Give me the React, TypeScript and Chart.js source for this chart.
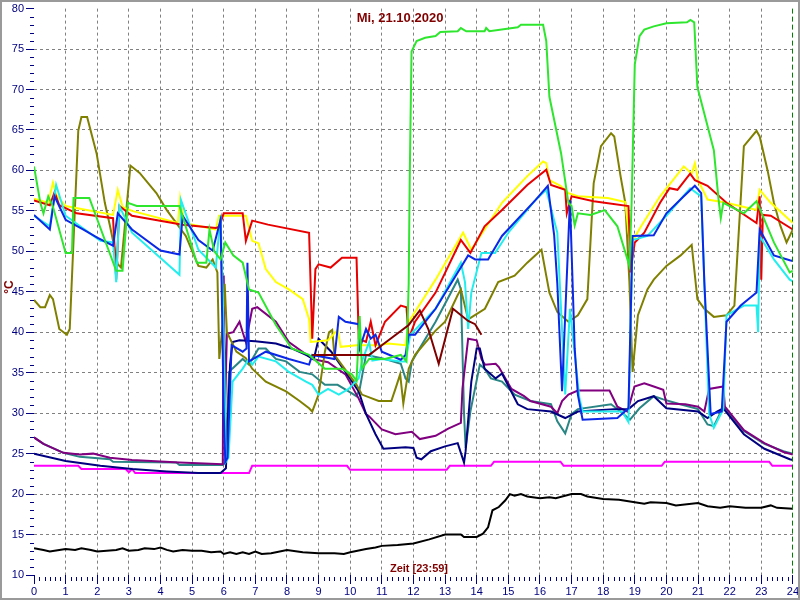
import { useEffect, useRef } from "react";
import { Chart, registerables } from "chart.js";

Chart.register(...registerables);

type P = [number, number];

// hour of day, °C
const green: P[] = [[0,60.5],[0.2,56],[0.3,54.7],[0.45,56.8],[0.6,55.5],[1.0,49.8],[1.2,49.8],[1.25,56.6],[1.75,56.6],[2.6,47.6],[2.8,47.6],[2.97,56],[3.25,55.6],[4.6,55.6],[5.15,48.6],[5.45,48.6],[5.55,52.7],[5.7,50],[5.9,49],[6.05,51.1],[6.3,49.5],[6.6,48.6],[6.8,45.3],[7.1,44.9],[7.65,40.9],[8.15,38],[8.7,37.2],[9.2,35.5],[9.74,35.5],[10.05,34.8],[10.2,34],[10.3,42],[10.37,35.5],[10.6,36.7],[11.1,36.7],[11.6,37.2],[11.78,36.4],[11.85,46],[11.88,58],[11.9,64],[11.94,74.7],[12.1,76],[12.37,76.4],[12.7,76.6],[12.85,77.1],[13.4,77.2],[13.5,77.6],[13.67,77.2],[14.25,77.2],[14.3,77.6],[14.4,77.2],[15.3,77.7],[15.4,78],[16.1,78],[16.2,76],[16.3,69.1],[16.67,62.1],[16.9,56],[17.0,55.6],[17.1,53.2],[17.2,54.7],[17.6,54.5],[18.05,55.1],[18.45,53.1],[18.83,48.2],[18.9,56],[19.0,73.1],[19.15,76.6],[19.3,77.4],[19.6,77.8],[20.0,78.2],[20.65,78.3],[20.76,78.6],[20.88,78.3],[20.98,70.3],[21.5,62.5],[21.65,56.4],[21.72,54.1],[21.8,56],[22.45,54.7],[22.85,56.2],[23.4,51.1],[23.9,47.4],[24,47.6]];

const yellow: P[] = [[0,56.5],[0.45,56],[0.6,58.5],[0.7,57],[1.0,55.6],[2.5,54.5],[2.65,57.6],[2.8,55.5],[3.1,55],[4.55,53.5],[4.62,56.6],[4.75,53.5],[5.75,52.7],[5.85,54.4],[6.17,54.4],[6.7,54.4],[6.9,51.3],[7.1,51],[7.33,47.8],[7.65,46.2],[8.06,45.3],[8.5,44.1],[8.7,41.6],[8.75,38.8],[9.3,39],[9.6,40.3],[9.7,38.2],[10.2,38.4],[10.9,38.4],[11.2,38.6],[11.75,38.4],[11.85,41.3],[12.7,46.5],[13.57,52.3],[13.83,50.2],[14.8,56],[15.6,59.3],[16.1,61.1],[16.2,60.9],[16.3,58.8],[16.65,58.1],[16.9,57.2],[17.2,56.8],[18.15,56.6],[18.7,56.1],[18.8,52.5],[18.86,50.8],[19.2,53.1],[19.8,56.8],[20.55,60.5],[20.8,59.6],[20.9,60.9],[21.0,58.8],[21.3,56.4],[21.9,56],[22.85,55.1],[22.95,57.6],[23.3,56],[24,53.5]];

const red: P[] = [[0,56.3],[0.5,55.7],[0.65,57.3],[0.8,55.7],[1.35,54.7],[2.5,54.1],[2.6,46.5],[2.7,55.6],[3.1,54.4],[4.7,53.3],[5.75,52.9],[5.85,53],[6.0,54.7],[6.6,54.7],[6.7,51.3],[6.9,53.8],[7.4,53.3],[8.7,52.3],[8.8,39.2],[8.9,47.8],[9.0,48.4],[9.38,48],[9.74,49.2],[10.2,49.2],[10.27,39.2],[10.5,38.8],[10.65,41.3],[10.8,38.4],[11.1,41.3],[11.6,43.3],[11.78,43.1],[11.85,39.2],[12.05,41.3],[12.7,44.9],[13.5,51.4],[13.8,49.8],[14.25,53.1],[14.8,55.1],[15.6,58.2],[16.2,60.1],[16.35,58.2],[16.8,57.6],[16.85,54.7],[17.0,56.8],[17.7,56.2],[18.8,55.6],[18.83,52.3],[18.86,47.4],[19.0,51.1],[19.3,52.3],[19.8,56],[20.1,57.8],[20.35,57.6],[20.75,59.6],[20.9,58.8],[21.3,58.1],[21.9,56],[22.85,53.5],[22.95,56.8],[23.0,46.5],[23.05,54.5],[23.3,54.4],[24,52.7]];

const cyan: P[] = [[0,54.4],[0.5,53.1],[0.7,58.2],[1.0,54.4],[2.1,51.3],[2.5,51.1],[2.6,46.2],[2.7,55.6],[3.1,52.3],[4.6,47.1],[4.65,56.3],[5.2,50.2],[5.75,48],[5.9,54.4],[6.0,40],[6.07,24],[6.15,24.5],[6.28,33.9],[6.6,35.5],[6.8,36.7],[6.9,36],[7.1,37],[7.65,36.4],[8.06,35.1],[8.6,33.9],[8.8,33.5],[9.0,32.3],[9.3,33],[9.64,32.3],[9.95,33],[10.27,34.3],[10.37,36.4],[10.6,38.8],[10.7,36.5],[11.0,36.7],[11.6,36.4],[11.75,36.4],[11.9,39.7],[12.7,42.9],[13.5,48.6],[13.63,46.2],[13.73,40.4],[13.83,44.9],[14.15,49.8],[14.58,49.8],[15.0,52.3],[15.85,56.3],[16.2,57.6],[16.55,52.3],[16.8,32.3],[16.95,42.9],[17.25,31.8],[17.35,30.2],[18.6,30.2],[18.8,28.9],[18.93,51.4],[19.4,51.9],[20.0,54.4],[20.75,57.8],[21.1,56.8],[21.35,29.9],[21.5,28.2],[21.8,30.5],[21.9,42.1],[22.45,43.3],[22.85,43.3],[22.9,40],[22.95,51.9],[23.4,49],[23.9,46.5],[24,46.3]];

const blue: P[] = [[0,54.5],[0.5,52.7],[0.65,56.8],[1.0,53.9],[1.55,52.7],[2.0,51.7],[2.5,50.7],[2.65,54.7],[3.1,52.7],[4.0,50.1],[4.6,49.6],[4.7,54.4],[5.2,51.4],[5.65,50.1],[5.9,53.9],[6.0,30],[6.05,24],[6.12,24.5],[6.25,38.4],[6.6,37.6],[6.72,38],[6.75,48.6],[6.8,36.4],[7.33,37.6],[8.06,36.7],[8.7,36],[8.8,37.2],[9.5,36.7],[9.64,41.9],[9.85,41.3],[10.27,41],[10.3,38],[10.5,40.4],[10.65,39.2],[10.8,39.7],[11.0,37.6],[11.6,36.6],[11.75,37.2],[11.85,39.7],[12.05,39.7],[12.7,42.9],[13.73,49.5],[13.95,49],[14.36,49],[14.8,51.9],[15.85,56.3],[16.25,58.1],[16.45,52],[16.55,46],[16.7,32.7],[16.95,56.3],[17.1,38],[17.2,32.3],[17.35,29.2],[18.45,29.4],[18.8,30.6],[18.93,51.9],[19.6,52],[20.0,54.7],[20.55,56.8],[20.9,58.1],[21.1,57.2],[21.2,46.2],[21.35,33.9],[21.4,29.9],[21.75,30.2],[21.9,41.3],[22.35,43.3],[22.85,44.9],[22.95,52.7],[23.4,49.5],[23.9,48.9],[24,48.8]];

const olive: P[] = [[0,44],[0.2,43.1],[0.35,43.1],[0.5,44.6],[0.6,44.1],[0.8,40.4],[1.04,39.7],[1.13,40.4],[1.4,64.9],[1.5,66.6],[1.68,66.6],[1.98,62.1],[2.24,56],[2.4,53.2],[2.65,48.4],[2.75,48],[3.05,60.6],[3.34,59.7],[3.87,57.2],[4.2,55.1],[4.8,51.9],[5.2,48.2],[5.45,48],[5.65,49],[5.8,47.4],[5.86,36.7],[5.97,41],[6.03,46],[6.1,40],[6.4,37.6],[6.7,36.8],[6.9,35.5],[7.33,33.9],[7.97,32.7],[8.4,31.5],[8.7,30.6],[8.8,30.2],[9.0,32.3],[9.2,37.6],[9.33,40],[9.43,40.3],[9.5,37.2],[10.2,33.5],[10.37,32.3],[10.9,31.5],[11.3,31.5],[11.43,33],[11.58,34.8],[11.68,31.2],[11.85,35.5],[12.05,37.2],[12.7,40.2],[13.0,41.3],[13.4,44.6],[13.5,45.3],[13.73,41.6],[14.26,42.9],[14.68,46.2],[15.2,47],[15.6,48.6],[16.05,50.2],[16.2,47],[16.3,44.9],[16.55,42.5],[16.9,41.3],[17.2,42.1],[17.5,44.1],[17.7,58.4],[17.93,63],[18.25,64.6],[18.35,64.2],[18.55,59.3],[18.7,56],[18.83,46.2],[18.93,35.1],[19.1,42.1],[19.4,45.3],[19.6,46.5],[20.0,48.2],[20.45,49.5],[20.8,50.8],[20.98,44.1],[21.2,42.9],[21.5,41.9],[21.9,42.1],[22.15,43.3],[22.45,63],[22.85,64.9],[22.95,64.2],[23.2,60],[23.4,56],[23.6,53.2],[23.8,51.1],[24,52.7]];

const purple: P[] = [[0,27],[0.3,26.2],[0.93,25.1],[1.45,24.9],[1.87,25],[2.4,24.5],[3.1,24.2],[4.6,23.9],[5.97,23.7],[6.0,47],[6.04,30],[6.1,39.8],[6.3,40],[6.5,41.3],[6.6,40],[6.7,38.8],[6.9,42.9],[7.06,43.1],[7.65,41.3],[8.06,38.8],[8.7,37],[8.8,36.7],[9.3,36.3],[9.85,34.8],[10.27,31.8],[10.5,29.9],[10.6,29.6],[11.0,28],[11.43,27.4],[11.95,27.7],[12.2,26.8],[12.7,27.2],[13.1,28.1],[13.5,28.8],[13.55,33],[13.73,39.2],[14.0,39],[14.15,36.7],[14.26,36],[14.6,36.1],[14.7,35.7],[15.1,33],[15.5,32.1],[15.7,31.5],[16.35,30.8],[16.55,30],[16.7,31.5],[16.9,32.3],[17.2,32.8],[18.2,32.8],[18.45,30.8],[18.77,30.2],[18.99,33.3],[19.3,33.7],[19.6,33.3],[19.9,32.9],[20.0,31.2],[20.6,31.1],[21.0,30.8],[21.2,30.2],[21.35,33],[21.8,33.3],[21.85,30.8],[22.45,27.9],[23.1,26.3],[23.7,25.2],[24,24.9]];

const teal: P[] = [[0,27],[0.3,26.2],[0.93,25.1],[1.45,24.6],[2.4,24.3],[2.5,24],[4.5,23.9],[4.6,23.6],[5.97,23.6],[6.05,24],[6.17,35.1],[6.27,35.5],[6.6,36.7],[6.8,36],[7.1,38],[7.33,38],[7.65,36.7],[7.97,36.4],[8.4,35.1],[8.8,34.8],[9.2,33.5],[9.6,33.5],[9.95,32.7],[10.2,32.1],[10.3,33],[10.5,37.2],[11.0,36.8],[11.6,36.1],[11.75,34.3],[11.85,33.9],[11.95,36.4],[12.7,41.3],[13.4,46.5],[13.5,45.3],[13.6,30],[13.65,25.7],[13.8,30.2],[14.1,36],[14.25,35.5],[14.45,34.3],[14.8,33.9],[15.2,32.3],[15.7,31.5],[16.35,31.1],[16.55,29],[16.8,27.5],[17.0,29.9],[17.2,30.5],[18.25,31.1],[18.55,30.2],[18.85,29.2],[19.15,30.6],[19.6,32.1],[19.9,31.7],[20.35,31.2],[21.0,30.5],[21.3,28.6],[21.5,28.4],[21.8,30.8],[22.45,27.8],[23.1,26.2],[23.7,25.3],[24,25]];

const navy: P[] = [[0,25],[1.0,24.1],[2.1,23.5],[3.1,23.1],[4.2,22.8],[5.2,22.6],[5.9,22.6],[6.07,23.2],[6.2,36],[6.28,38.8],[6.5,39],[7.0,38.9],[7.65,38.6],[8.15,38],[8.6,37.2],[8.85,36.7],[9.0,39.2],[9.4,37.6],[9.85,35.1],[10.27,32.7],[10.5,29.9],[10.8,27.4],[11.05,25.6],[11.75,25.8],[12.0,25.7],[12.1,24.5],[12.25,24.3],[12.55,25.3],[13.0,25.9],[13.4,26.3],[13.5,25.1],[13.6,23.9],[13.65,25.3],[13.83,33.9],[14.0,38],[14.1,38],[14.25,35.5],[14.6,34.3],[14.8,34.9],[15.3,31.1],[15.6,30.5],[16.35,30.2],[16.8,29.4],[17.2,30.2],[18.35,30.5],[18.8,30.5],[19.1,31.5],[19.6,32.1],[20.0,30.6],[21.0,30.2],[21.3,29.4],[21.6,30.2],[21.8,30.6],[22.45,27.4],[23.1,25.6],[23.9,24.3],[24,24.2]];

const maroon: P[] = [[8.8,37.2],[9.2,37.2],[10.6,37.2],[11.0,38.4],[11.85,40.9],[12.2,42.7],[12.47,40.4],[12.8,36.1],[13.25,42.9],[13.73,41.4],[13.95,41],[14.15,39.7]];

const magenta: P[] = [[0,23.5],[1.4,23.5],[1.5,23.1],[2.9,23.1],[3.0,22.7],[3.1,23.1],[3.2,22.6],[6.8,22.6],[6.9,23.5],[9.9,23.5],[10.0,23.0],[13.05,23.0],[13.15,23.5],[14.45,23.5],[14.55,24.0],[16.65,24.0],[16.75,23.5],[19.85,23.5],[19.95,24.0],[23.25,24.0],[23.35,23.5],[24,23.5]];

const outside: P[] = [[0,13.3],[0.3,13.1],[0.5,12.9],[0.8,13.1],[1.0,13.2],[1.3,13.1],[1.5,13.3],[1.8,13.1],[2.0,12.9],[2.3,13.0],[2.6,13.1],[2.8,13.3],[3.0,13.0],[3.3,13.1],[3.5,13.3],[3.8,13.2],[4.0,13.4],[4.2,13.1],[4.4,12.9],[4.7,13.1],[5.0,13.0],[5.3,13.0],[5.6,12.8],[5.9,12.9],[6.0,12.6],[6.2,12.8],[6.4,12.6],[6.6,12.8],[6.8,12.6],[7.0,12.9],[7.2,12.6],[7.5,12.7],[8.0,13.1],[8.5,12.8],[9.0,12.7],[9.5,12.7],[9.8,12.6],[10.0,12.8],[10.5,13.2],[10.8,13.4],[11.0,13.6],[11.5,13.7],[12.0,13.9],[12.5,14.4],[13.0,15.0],[13.5,15.0],[13.6,14.7],[14.0,14.7],[14.2,15.1],[14.36,15.9],[14.5,18.0],[14.7,18.4],[14.9,19.2],[15.05,20.0],[15.2,19.8],[15.4,20.0],[15.6,19.7],[16.0,19.5],[16.3,19.6],[16.5,19.5],[17.0,20.0],[17.3,20.0],[17.5,19.7],[18.0,19.4],[18.5,19.3],[19.0,19.0],[19.3,18.8],[19.5,19.0],[20.0,18.9],[20.3,18.6],[21.0,18.9],[21.3,18.5],[21.7,18.3],[22.0,18.5],[22.5,18.3],[23.0,18.3],[23.3,18.6],[23.5,18.3],[24,18.2]];

const dateTitle = "Mi, 21.10.2020";
const timeLabel = "Zeit [23:59]";
const unitLabel = "°C";
const nowHour = 23 + 59 / 60;

const series = [
  { label: "maroon", color: "#800000", data: maroon },
  { label: "green", color: "#2ee62e", data: green },
  { label: "blue", color: "#0a28e6", data: blue },
  { label: "cyan", color: "#22eeee", data: cyan },
  { label: "red", color: "#e80000", data: red },
  { label: "yellow", color: "#ffff00", data: yellow },
  { label: "olive", color: "#808000", data: olive },
  { label: "navy", color: "#000080", data: navy },
  { label: "purple", color: "#800080", data: purple },
  { label: "teal", color: "#2a8585", data: teal },
  { label: "magenta", color: "#ff00ff", data: magenta },
  { label: "outside", color: "#000000", data: outside },
];

export default function App() {
  const ref = useRef<HTMLCanvasElement>(null);
  useEffect(() => {
    const canvas = ref.current!;
    const decor = {
      id: "decor",
      beforeDraw(chart: any) {
        const c = chart.ctx;
        c.save();
        c.fillStyle = "#ffffff";
        c.fillRect(0, 0, chart.width, chart.height);
        c.restore();
      },
      afterDraw(chart: any) {
        const c = chart.ctx;
        const xs = chart.scales.x;
        const ys = chart.scales.y;
        const a = chart.chartArea;
        c.save();
        // minor ticks
        c.strokeStyle = "#000080";
        c.lineWidth = 1;
        c.beginPath();
        for (let v = 10; v <= 80; v++) {
          if (v % 5 === 0) continue;
          const y = Math.round(ys.getPixelForValue(v)) + 0.5;
          c.moveTo(a.left - 4, y);
          c.lineTo(a.left, y);
        }
        for (let i = 0; i <= 144; i++) {
          if (i % 6 === 0) continue;
          const x = Math.round(xs.getPixelForValue(i / 6)) + 0.5;
          c.moveTo(x, a.bottom + 2);
          c.lineTo(x, a.bottom + 6);
        }
        c.stroke();
        // current time marker
        const nx = Math.round(xs.getPixelForValue(nowHour)) + 0.5;
        c.strokeStyle = "#008000";
        c.setLineDash([5, 3]);
        c.beginPath();
        c.moveTo(nx, a.top);
        c.lineTo(nx, a.bottom);
        c.stroke();
        c.setLineDash([]);
        // texts
        c.fillStyle = "#800000";
        c.textAlign = "center";
        c.textBaseline = "middle";
        c.font = "bold 13px 'Liberation Sans', Arial, sans-serif";
        c.fillText(dateTitle, 400, 18);
        c.font = "bold 11px 'Liberation Sans', Arial, sans-serif";
        c.fillText(timeLabel, 419, 569);
        c.save();
        c.translate(10, 287);
        c.rotate(-Math.PI / 2);
        c.font = "bold 12px 'Liberation Sans', Arial, sans-serif";
        c.fillText(unitLabel, 0, 0);
        c.restore();
        // frame
        c.strokeStyle = "#9a9a9a";
        c.lineWidth = 2;
        c.strokeRect(1, 1, chart.width - 2, chart.height - 2);
        c.restore();
      },
    };
    const tickFont = { family: "'Liberation Sans', Arial, sans-serif", size: 11 };
    const chart = new Chart(canvas, {
      type: "line",
      data: {
        datasets: series.map((s) => ({
          label: s.label,
          data: s.data.map(([x, y]) => ({ x, y })),
          borderColor: s.color,
          backgroundColor: s.color,
          borderWidth: 2,
          pointRadius: 0,
          tension: 0,
          fill: false,
        })),
      },
      options: {
        responsive: false,
        animation: false,
        devicePixelRatio: 1,
        layout: { padding: { top: 4, right: 4, left: 0, bottom: 0 } },
        plugins: {
          legend: { display: false },
          tooltip: { enabled: false },
          title: { display: false },
        },
        scales: {
          x: {
            type: "linear",
            min: 0,
            max: 24,
            afterFit: (s: any) => {
              s.height = 25;
            },
            ticks: {
              stepSize: 1,
              autoSkip: false,
              maxRotation: 0,
              color: "#000080",
              font: tickFont,
              padding: 1,
            },
            grid: {
              color: (ctx: any) =>
                ctx.tick && (ctx.tick.value === 0 || ctx.tick.value === 24)
                  ? "rgba(0,0,0,0)"
                  : "#808080",
              tickColor: "#000080",
              tickLength: 9,
              lineWidth: 1,
            },
            border: { display: false, dash: [3, 3] },
          },
          y: {
            type: "linear",
            min: 10,
            max: 80,
            afterFit: (s: any) => {
              s.width = 34;
            },
            ticks: {
              stepSize: 5,
              color: "#000080",
              font: tickFont,
              padding: 2,
            },
            grid: {
              color: (ctx: any) =>
                ctx.tick && (ctx.tick.value === 10 || ctx.tick.value === 80)
                  ? "rgba(0,0,0,0)"
                  : "#808080",
              tickColor: "#000080",
              tickLength: 8,
              lineWidth: 1,
            },
            border: { display: false, dash: [3, 3] },
          },
        },
      },
      plugins: [decor],
    } as any);
    return () => chart.destroy();
  }, []);
  return (
    <div style={{ position: "absolute", left: 0, top: 0, width: 800, height: 600 }}>
      <canvas ref={ref} width={800} height={600} style={{ display: "block" }} />
    </div>
  );
}
